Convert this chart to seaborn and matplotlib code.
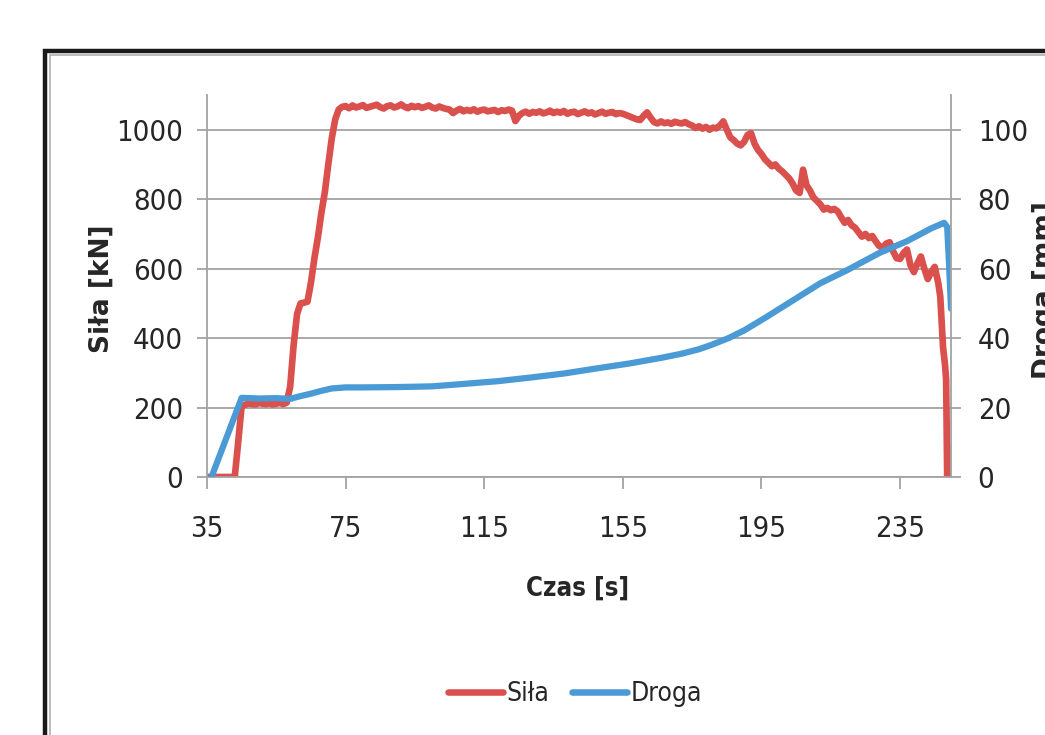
import matplotlib
matplotlib.use("Agg")
import matplotlib.pyplot as plt
from matplotlib import font_manager as fm
from matplotlib.patches import Rectangle
import seaborn as sns
import pandas as pd

# ---------------- data ----------------
sila_t = list(range(35, 247)) + [246.6, 247.4, 248.0, 248.3, 248.6, 248.9, 249.1, 249.3, 249.5, 249.7]
sila_kn = (
    [0, 0, 0, 0, 0, 0, 0, 0, 0]                                   # 35-43
    + [100, 205]                                                  # 44-45
    + [208, 212, 210, 209, 213, 211, 210, 212, 209, 211, 213, 210, 214]   # 46-58
    + [260, 380, 470, 500, 502, 505, 560, 630, 690, 760, 820, 900, 975, 1030, 1058, 1066]  # 59-74
    + [1068, 1062, 1070, 1064, 1067, 1071, 1063, 1066, 1069, 1072, 1065, 1061, 1068, 1070, 1064,
       1067, 1073, 1066, 1062, 1069, 1065, 1068, 1063, 1066, 1070, 1064, 1061, 1067, 1063, 1060]  # 75-104
    + [1058, 1048, 1055, 1060, 1053, 1057, 1054, 1059, 1052, 1056, 1058, 1053, 1055, 1057, 1051,
       1056, 1054, 1058, 1055]                                    # 105-123
    + [1025, 1040]                                                # 124-125
    + [1048, 1052, 1046, 1051, 1049, 1053, 1047, 1050, 1055, 1048, 1052, 1049, 1054, 1046, 1050,
       1052, 1045, 1049, 1053, 1047, 1050, 1044, 1048, 1052, 1046, 1049, 1051, 1045, 1048, 1046]  # 126-155
    + [1042, 1038, 1034, 1030, 1028, 1040, 1050]                  # 156-162
    + [1035, 1022, 1018, 1024, 1019, 1021, 1017, 1023, 1020, 1018, 1022, 1016, 1012]  # 163-175
    + [1005, 1010, 1003, 1008, 1000, 1006, 1004, 1012, 1024, 1000]  # 176-185
    + [978, 970, 960, 955, 965, 985, 990, 960, 942, 930, 915, 905, 895, 900, 888,
       880, 870, 860, 845, 825, 818, 885, 840, 825, 805, 795, 785, 770, 775, 768,
       772, 765, 748, 732, 740, 725, 718, 705, 692, 700, 688, 694, 678, 665, 660,
       672, 676, 650, 630, 628, 645, 655, 610, 590, 615, 635, 600, 570, 590, 605, 560]  # 186-246
    + [520, 375, 320, 280, 0, 85, 0, 80, 5, 60]                   # tail
)

droga_t = [36.3, 45, 50, 55, 59, 62, 65, 68, 71, 75, 80, 90, 100, 109, 119, 128, 138, 147,
           157, 166, 172, 177, 181, 185.5, 190, 196, 204, 212, 220, 229, 237, 244, 247.7,
           248.6, 249.2, 249.7]
droga_mm = [0, 22.8, 22.6, 22.7, 22.5, 23.3, 24.0, 24.8, 25.5, 25.8, 25.8, 25.9, 26.1, 26.8,
            27.6, 28.6, 29.8, 31.2, 32.7, 34.3, 35.5, 36.8, 38.2, 40.0, 42.2, 45.8, 50.8,
            55.8, 59.7, 64.5, 67.9, 71.6, 73.2, 72.0, 60.0, 48.5]

x_ticks = [35, 75, 115, 155, 195, 235]
left_ticks = [0, 200, 400, 600, 800, 1000]
right_ticks = [0, 20, 40, 60, 80, 100]

n = min(len(sila_t), len(sila_kn))
df_s = pd.DataFrame({"t": sila_t[:n], "v": sila_kn[:n]})
df_d = pd.DataFrame({"t": droga_t, "v": droga_mm})

# ---------------- style ----------------
sns.set_theme(style="white")
names = {f.name for f in fm.fontManager.ttflist}
if "Liberation Sans Narrow" in names:
    NARROW = ["Liberation Sans Narrow", "DejaVu Sans"]
    STRETCH = "normal"
else:
    NARROW = ["DejaVu Sans"]
    STRETCH = "condensed"
plt.rcParams["font.family"] = NARROW

RED = "#DA504C"
BLUE = "#4A9AD5"
GRID = "#A3A3A3"
TXT = "#262626"

W, H = 1045, 735
fig = plt.figure(figsize=(W / 100, H / 100), dpi=100)
fig.patch.set_facecolor("white")

ax = fig.add_axes([207 / W, 1 - 477 / H, (951 - 207) / W, (477 - 95) / H])
ax2 = ax.twinx()

sns.lineplot(data=df_s, x="t", y="v", ax=ax, color=RED, lw=4.8, estimator=None,
             sort=False, label="Siła", legend=False)
sns.lineplot(data=df_d, x="t", y="v", ax=ax2, color=BLUE, lw=4.5, estimator=None,
             sort=False, label="Droga", legend=False)

ax.set_xlim(35, 249.7)
ax.set_ylim(0, 1100)
ax2.set_ylim(0, 110)
ax.set_xticks(x_ticks)
ax.set_yticks(left_ticks)
ax2.set_yticks(right_ticks)
ax.set_xlabel("")
ax.set_ylabel("")
ax2.set_ylabel("")

ax.yaxis.grid(True, color=GRID, lw=1.3)
ax.xaxis.grid(False)
ax2.grid(False)

for a in (ax, ax2):
    for s in a.spines.values():
        s.set_visible(False)
ax.spines["left"].set_visible(True)
ax.spines["left"].set_color(GRID)
ax.spines["left"].set_linewidth(1.3)
ax.spines["bottom"].set_visible(True)
ax.spines["bottom"].set_color(GRID)
ax.spines["bottom"].set_linewidth(1.3)
ax2.spines["right"].set_visible(True)
ax2.spines["right"].set_color(GRID)
ax2.spines["right"].set_linewidth(1.3)

ax.tick_params(axis="x", direction="out", length=8.5, width=1.3, color=GRID, pad=19,
               labelsize=21, labelcolor=TXT, bottom=True)
ax.tick_params(axis="y", direction="out", length=7.2, width=1.3, color=GRID, pad=10,
               labelsize=21, labelcolor=TXT, left=True)
ax2.tick_params(axis="y", direction="out", length=7.2, width=1.3, color=GRID, pad=12,
                labelsize=21, labelcolor=TXT, right=True)
for lab in ax.get_xticklabels() + ax.get_yticklabels() + ax2.get_yticklabels():
    lab.set_fontstretch(STRETCH)

# axis titles
fig.text(101.5 / W, 1 - 289 / H, "Siła [kN]", rotation=90, ha="center", va="center",
         family=["DejaVu Sans"], fontweight="bold", fontsize=19, color=TXT)
fig.text(1045 / W, 1 - 290 / H, "Droga [mm]", rotation=90, ha="center", va="center",
         family=["DejaVu Sans"], fontweight="bold", fontsize=19, color=TXT)
fig.text(578 / W, 1 - 589 / H, "Czas [s]", ha="center", va="center",
         family=NARROW, fontstretch=STRETCH, fontweight="bold", fontsize=18.5, color=TXT)

# legend
h1, l1 = ax.get_legend_handles_labels()
h2, l2 = ax2.get_legend_handles_labels()
leg = fig.legend(h1 + h2, l1 + l2, loc="center", bbox_to_anchor=(575 / W, 1 - 694 / H),
                 ncol=2, frameon=False, handlelength=2.1, handletextpad=0.12,
                 columnspacing=0.85, prop={"family": NARROW, "size": 19, "stretch": STRETCH})
for t in leg.get_texts():
    t.set_color(TXT)
for lh in leg.get_lines():
    lh.set_linewidth(4.7)

# outer chart frame (cropped Excel chart border)
fig.add_artist(Rectangle((45 / W, -0.2), 1.5, 1 - 51 / H + 0.2, transform=fig.transFigure,
                         fill=False, edgecolor="#1a1a1a", lw=3.2, clip_on=False))
fig.add_artist(Rectangle((49.5 / W, -0.2), 1.5, 1 - 55 / H + 0.2, transform=fig.transFigure,
                         fill=False, edgecolor="#b0b0b0", lw=1.2, clip_on=False))

fig.savefig("out.png", dpi=100, facecolor="white")
